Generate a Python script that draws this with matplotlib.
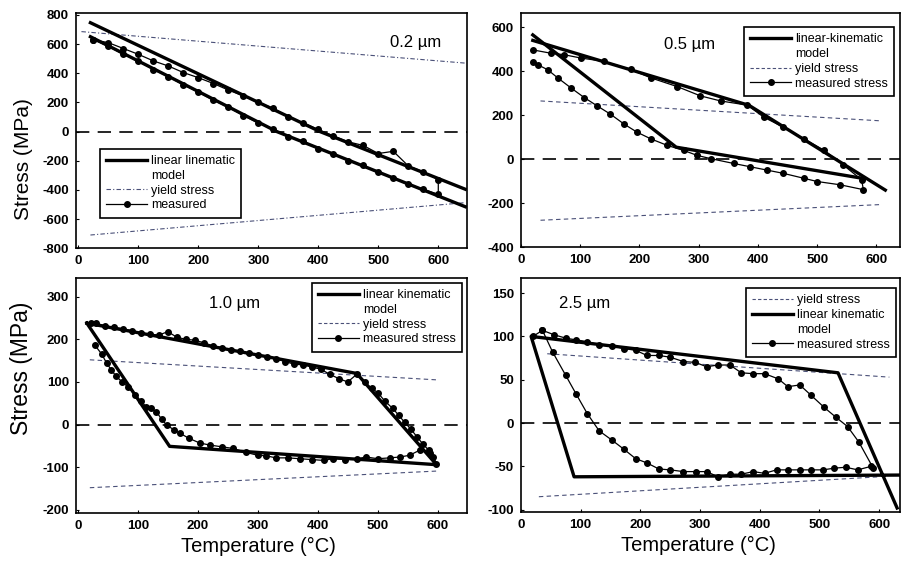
import matplotlib.pyplot as plt
from matplotlib.lines import Line2D

plt.rcParams['font.family'] = ['Liberation Sans', 'DejaVu Sans']
plt.rcParams['axes.unicode_minus'] = False

# ---- 0.2 um film ----
p1_model_hi_T = [20, 200, 403, 645]
p1_model_hi_S = [747, 396, 0, -395]
p1_model_lo_T = [20, 180, 331, 645]
p1_model_lo_S = [651, 317, 0, -515]
p1_yield_T = [5, 645]
p1_yield_hi = [686, 470]
p1_yield_lo_T = [20, 645]
p1_yield_lo = [-709, -487]
p1_meas_T = [25, 50, 75, 100, 125, 150, 175, 200, 225, 250, 275, 300, 325, 350,
             375, 400, 425, 450, 475, 500, 525, 550, 575, 600,
             600, 575, 550, 525, 500, 475, 450, 425, 400, 375, 350, 325, 300,
             275, 250, 225, 200, 175, 150, 125, 100, 75, 50, 25]
p1_meas_S = [630, 610, 570, 530, 485, 450, 405, 370, 330, 285, 245, 200, 160, 100,
             60, 15, -30, -70, -95, -150, -135, -235, -275, -330,
             -430, -395, -360, -315, -280, -230, -200, -150, -118, -65, -35, 15, 60,
             110, 168, 215, 272, 320, 378, 425, 485, 530, 585, 630]

# ---- 0.5 um film ----
p2_model_heat_T = [20, 385, 615]
p2_model_heat_S = [540, 245, -140]
p2_model_cool_T = [580, 262, 20]
p2_model_cool_S = [-88, 55, 565]
p2_yield_T = [33, 605]
p2_yield_hi = [265, 175]
p2_yield_lo = [-277, -206]
p2_meas_T = [20, 50, 73, 101, 140, 185, 219, 264, 303, 337, 382, 410, 443, 477,
             511, 544, 575, 578, 539, 500, 477, 443, 415, 387, 359, 320, 297,
             275, 247, 219, 196, 174, 151, 129, 107, 84, 62, 45, 28, 20]
p2_meas_S = [497, 482, 475, 460, 445, 408, 370, 330, 288, 265, 246, 191, 146, 94,
             42, -26, -93, -138, -116, -101, -86, -64, -49, -34, -19, 3, 18,
             40, 63, 93, 123, 160, 205, 242, 280, 325, 370, 407, 430, 444]

# ---- 1.0 um film ----
p3_model_T = [15, 465, 598, 153, 15]
p3_model_S = [238, 120, -94, -51, 238]
p3_yield_T = [20, 598]
p3_yield_hi = [152, 105]
p3_yield_lo = [-148, -109]
p3_meas_T = [28, 40, 48, 56, 64, 74, 84, 95, 105, 114, 122, 131, 140, 148, 160,
             170, 185, 203, 220, 240, 259, 280, 300, 314, 330, 350, 370, 390,
             410, 425, 445, 465, 481, 500, 520, 537, 553, 570, 587, 598,
             592, 585, 575, 565, 555, 545, 535, 525, 512, 500, 490, 478, 465,
             450, 435, 420, 405, 390, 375, 360, 345, 330, 315, 300, 285, 270,
             255, 240, 225, 210, 195, 180, 165, 150, 135, 120, 105, 90, 75, 60,
             45, 30, 22]
p3_meas_S = [187, 165, 144, 128, 113, 100, 88, 70, 55, 42, 38, 30, 12, -1, -12,
             -20, -32, -43, -48, -52, -56, -65, -72, -73, -78, -78, -80, -82,
             -84, -80, -82, -80, -76, -80, -78, -76, -72, -60, -66, -92,
             -75, -60, -45, -28, -10, 5, 22, 38, 55, 75, 85, 100, 118,
             100, 108, 118, 130, 135, 140, 142, 148, 155, 158, 164, 168, 172,
             175, 180, 185, 192, 198, 200, 205, 218, 210, 212, 215, 220, 225, 228,
             232, 238, 238]

# ---- 2.5 um film ----
p4_model_T = [635, 89, 17, 531, 630]
p4_model_S = [-60, -62, 100, 58, -98]
p4_yield_hi_T = [44, 617]
p4_yield_hi = [80, 53]
p4_yield_lo_T = [30, 600]
p4_yield_lo = [-85, -62]
p4_meas_T = [20, 36, 53, 75, 92, 111, 131, 153, 172, 192, 211, 231, 250, 272,
             294, 311, 330, 350, 369, 389, 408, 428, 447, 467, 486, 506, 525,
             544, 564, 586, 590, 566, 547, 527, 508, 486, 467, 447, 431, 408,
             389, 369, 350, 330, 311, 292, 272, 250, 231, 211, 192, 172, 153,
             131, 111, 92, 75, 55, 36]
p4_meas_S = [100, 107, 82, 55, 34, 11, -9, -20, -30, -41, -46, -53, -54, -56,
             -56, -56, -62, -59, -59, -56, -58, -54, -54, -54, -54, -54, -52,
             -51, -54, -50, -52, -22, -4, 7, 18, 32, 44, 42, 51, 57,
             57, 58, 67, 67, 65, 70, 71, 76, 78, 78, 84, 86, 89,
             90, 94, 96, 98, 102, 107]

xticks = [0, 100, 200, 300, 400, 500, 600]
yield_col = '#4a5078'


def setup(ax, xlim, ylim, yticks):
    ax.set_xlim(*xlim)
    ax.set_ylim(*ylim)
    ax.set_xticks(xticks)
    ax.set_yticks(yticks)
    ax.tick_params(direction='in', length=2, labelsize=9.5, pad=5)
    for lab in ax.get_xticklabels() + ax.get_yticklabels():
        lab.set_fontweight('bold')
    for s in ax.spines.values():
        s.set_linewidth(1.2)
    ax.axhline(0, color='k', lw=1.2, dashes=(8, 5), zorder=1)


def legend(ax, handles, labels, loc, anchor):
    leg = ax.legend(handles, labels, loc=loc, bbox_to_anchor=anchor, fontsize=9,
                    fancybox=False, edgecolor='k', framealpha=1,
                    handlelength=3.3, handletextpad=0.3, labelspacing=0.22,
                    borderpad=0.5, borderaxespad=0, numpoints=1)
    leg.get_frame().set_linewidth(1.2)


h_model = Line2D([], [], color='k', lw=2.4)
h_blank = Line2D([], [], color='none')
h_yield = Line2D([], [], color=yield_col, lw=0.8, ls=(0, (3, 2)))
h_yield_dd = Line2D([], [], color=yield_col, lw=0.8, ls=(0, (4, 2, 1, 2)))
h_meas = Line2D([], [], color='k', lw=0.9, marker='o', ms=4)

fig = plt.figure(figsize=(9.01, 5.63), dpi=100)
ax1 = fig.add_axes([0.0844, 0.559, 0.434, 0.418])
ax2 = fig.add_axes([0.5782, 0.5607, 0.4208, 0.416])
ax3 = fig.add_axes([0.0844, 0.0883, 0.434, 0.418])
ax4 = fig.add_axes([0.5782, 0.090, 0.4208, 0.4156])

# 0.2 um
setup(ax1, (-4, 648), (-800, 814), range(-800, 801, 200))
ax1.plot(p1_yield_T, p1_yield_hi, color=yield_col, lw=0.8, ls=(0, (4, 2, 1, 2)))
ax1.plot(p1_yield_lo_T, p1_yield_lo, color=yield_col, lw=0.8, ls=(0, (4, 2, 1, 2)))
ax1.plot(p1_model_hi_T, p1_model_hi_S, color='k', lw=2.4)
ax1.plot(p1_model_lo_T, p1_model_lo_S, color='k', lw=2.4)
ax1.plot(p1_meas_T, p1_meas_S, color='k', lw=0.9, marker='o', ms=4)
ax1.text(519, 608, '0.2 µm', fontsize=12, va='center')
legend(ax1, [h_model, h_blank, h_yield_dd, h_meas],
       ['linear linematic', 'model', 'yield stress', 'measured'],
       'upper left', (0.061, 0.422))
ax1.set_ylabel('Stress (MPa)', fontsize=15)
ax1.yaxis.set_label_coords(-0.11, 0.38)

# 0.5 um
setup(ax2, (0, 640), (-400, 664), range(-400, 601, 200))
ax2.plot(p2_yield_T, p2_yield_hi, color=yield_col, lw=0.8, ls=(0, (4, 3)))
ax2.plot(p2_yield_T, p2_yield_lo, color=yield_col, lw=0.8, ls=(0, (4, 3)))
ax2.plot(p2_model_heat_T, p2_model_heat_S, color='k', lw=2.4)
ax2.plot(p2_model_cool_T, p2_model_cool_S, color='k', lw=2.4)
ax2.plot(p2_meas_T, p2_meas_S, color='k', lw=0.9, marker='o', ms=4)
ax2.text(241, 520, '0.5 µm', fontsize=12, va='center')
legend(ax2, [h_model, h_blank, h_yield, h_meas],
       ['linear-kinematic', 'model', 'yield stress', 'measured stress'],
       'upper right', (0.984, 0.94))

# 1.0 um
setup(ax3, (-3, 649), (-208, 344), range(-200, 301, 100))
ax3.plot(p3_yield_T, p3_yield_hi, color=yield_col, lw=0.8, ls=(0, (4, 3)))
ax3.plot(p3_yield_T, p3_yield_lo, color=yield_col, lw=0.8, ls=(0, (4, 3)))
ax3.plot(p3_model_T, p3_model_S, color='k', lw=2.4)
ax3.plot(p3_meas_T, p3_meas_S, color='k', lw=0.9, marker='o', ms=4)
ax3.text(218, 284, '1.0 µm', fontsize=12, va='center')
legend(ax3, [h_model, h_blank, h_yield, h_meas],
       ['linear kinematic', 'model', 'yield stress', 'measured stress'],
       'upper right', (0.987, 0.979))
ax3.set_ylabel('Stress (MPa)', fontsize=16.5)
ax3.yaxis.set_label_coords(-0.11, 0.617)
ax3.set_xlabel('Temperature (°C)', fontsize=14.5)
ax3.xaxis.set_label_coords(0.467, -0.1)

# 2.5 um
setup(ax4, (0, 635), (-103, 167), range(-100, 151, 50))
ax4.plot(p4_yield_hi_T, p4_yield_hi, color=yield_col, lw=0.8, ls=(0, (4, 3)))
ax4.plot(p4_yield_lo_T, p4_yield_lo, color=yield_col, lw=0.8, ls=(0, (4, 3)))
ax4.plot(p4_model_T, p4_model_S, color='k', lw=2.4)
ax4.plot(p4_meas_T, p4_meas_S, color='k', lw=0.9, marker='o', ms=4)
ax4.text(64, 138, '2.5 µm', fontsize=12, va='center')
legend(ax4, [h_yield, h_model, h_blank, h_meas],
       ['yield stress', 'linear kinematic', 'model', 'measured stress'],
       'upper right', (0.989, 0.958))
ax4.set_xlabel('Temperature (°C)', fontsize=14.5)
ax4.xaxis.set_label_coords(0.468, -0.1)

fig.savefig('out.png', dpi=100)
